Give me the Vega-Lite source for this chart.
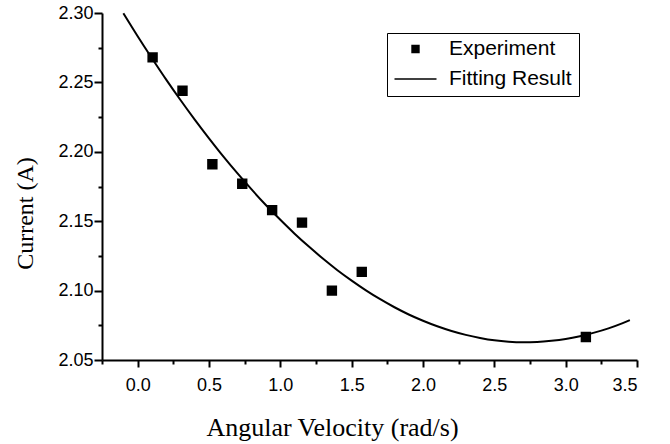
{
  "$schema": "https://vega.github.io/schema/vega-lite/v6.json",
  "width": 535,
  "height": 347,
  "autosize": "none",
  "padding": {"left": 102, "top": 13, "right": 33, "bottom": 84},
  "background": "white",
  "config": {
    "view": {"stroke": null},
    "axis": {
      "domainColor": "black",
      "domainWidth": 2,
      "tickColor": "black",
      "tickWidth": 2,
      "labelColor": "black",
      "labelFont": "Liberation Sans",
      "labelFontSize": 18,
      "titleFont": "Liberation Serif",
      "titleFontWeight": "normal",
      "titleColor": "black",
      "grid": false
    }
  },
  "datasets": {
    "experiment": [
      {"omega": 0.1047, "current": 2.268, "series": "Experiment"},
      {"omega": 0.3142, "current": 2.244, "series": "Experiment"},
      {"omega": 0.5236, "current": 2.191, "series": "Experiment"},
      {"omega": 0.7330, "current": 2.177, "series": "Experiment"},
      {"omega": 0.9425, "current": 2.158, "series": "Experiment"},
      {"omega": 1.1519, "current": 2.149, "series": "Experiment"},
      {"omega": 1.3614, "current": 2.100, "series": "Experiment"},
      {"omega": 1.5708, "current": 2.1135, "series": "Experiment"},
      {"omega": 3.1416, "current": 2.0666, "series": "Experiment"}
    ],
    "fit": [
      {"omega": -0.1, "current": 2.2998},
      {"omega": 0.0, "current": 2.2833},
      {"omega": 0.1, "current": 2.2674},
      {"omega": 0.2, "current": 2.2520},
      {"omega": 0.3, "current": 2.2373},
      {"omega": 0.4, "current": 2.2232},
      {"omega": 0.5, "current": 2.2097},
      {"omega": 0.6, "current": 2.1967},
      {"omega": 0.7, "current": 2.1844},
      {"omega": 0.8, "current": 2.1727},
      {"omega": 0.9, "current": 2.1615},
      {"omega": 1.0, "current": 2.1510},
      {"omega": 1.1, "current": 2.1410},
      {"omega": 1.2, "current": 2.1317},
      {"omega": 1.3, "current": 2.1229},
      {"omega": 1.4, "current": 2.1147},
      {"omega": 1.5, "current": 2.1072},
      {"omega": 1.6, "current": 2.1002},
      {"omega": 1.7, "current": 2.0938},
      {"omega": 1.8, "current": 2.0880},
      {"omega": 1.9, "current": 2.0828},
      {"omega": 2.0, "current": 2.0783},
      {"omega": 2.1, "current": 2.0743},
      {"omega": 2.2, "current": 2.0709},
      {"omega": 2.3, "current": 2.0681},
      {"omega": 2.4, "current": 2.0659},
      {"omega": 2.5, "current": 2.0642},
      {"omega": 2.6, "current": 2.0632},
      {"omega": 2.7, "current": 2.0628},
      {"omega": 2.8, "current": 2.0630},
      {"omega": 2.9, "current": 2.0638},
      {"omega": 3.0, "current": 2.0651},
      {"omega": 3.1, "current": 2.0671},
      {"omega": 3.2, "current": 2.0697},
      {"omega": 3.3, "current": 2.0728},
      {"omega": 3.4, "current": 2.0766},
      {"omega": 3.45, "current": 2.0787}
    ]
  },
  "encoding": {
    "x": {
      "field": "omega",
      "type": "quantitative",
      "scale": {"domain": [-0.25, 3.5], "nice": false, "zero": false},
      "axis": {
        "title": "Angular Velocity (rad/s)",
        "values": [-0.25, 0, 0.25, 0.5, 0.75, 1, 1.25, 1.5, 1.75, 2, 2.25, 2.5, 2.75, 3, 3.25, 3.5],
        "labelExpr": "round(datum.value * 100) % 50 === 0 ? format(datum.value, '.1f') : ''",
        "tickSize": {"condition": {"test": "round(datum.value * 100) % 50 !== 0", "value": 4}, "value": 7},
        "labelPadding": 9,
        "labelFontSize": 18,
        "labelColor": "black",
        "titleFontSize": 26,
        "titleX": 230,
        "titleY": 75,
        "titleAlign": "center",
        "titleBaseline": "alphabetic"
      }
    },
    "y": {
      "field": "current",
      "type": "quantitative",
      "scale": {"domain": [2.05, 2.30], "nice": false, "zero": false},
      "axis": {
        "title": "Current (A)",
        "values": [2.05, 2.075, 2.1, 2.125, 2.15, 2.175, 2.2, 2.225, 2.25, 2.275, 2.3],
        "labelExpr": "round(datum.value * 1000) % 50 === 0 ? format(datum.value, '.2f') : ''",
        "tickSize": {"condition": {"test": "round(datum.value * 1000) % 50 !== 0", "value": 4}, "value": 8},
        "labelPadding": 1,
        "labelOverlap": false,
        "labelFlush": false,
        "titleFontSize": 24,
        "titleAngle": 270,
        "titleX": -70,
        "titleY": 200,
        "titleAlign": "center",
        "titleBaseline": "alphabetic"
      }
    }
  },
  "layer": [
    {
      "data": {"name": "fit"},
      "mark": {"type": "line", "color": "black", "strokeWidth": 2, "interpolate": "monotone"}
    },
    {
      "data": {"name": "experiment"},
      "mark": {"type": "point", "filled": true, "color": "black", "stroke": "black", "strokeWidth": 2, "opacity": 1, "size": 1764},
      "encoding": {
        "shape": {
          "field": "series",
          "type": "nominal",
          "scale": {
            "domain": ["Experiment", "Fitting Result"],
            "range": ["M-0.2,-0.2H0.2V0.2H-0.2Z", "M-1,-0.03H1V0.03H-1Z"]
          },
          "legend": {
            "title": null,
            "orient": "none",
            "legendX": 285,
            "legendY": 20,
            "padding": 7,
            "clipHeight": 18,
            "rowPadding": 9,
            "labelOffset": 12,
            "strokeColor": "black",
            "labelFont": "Liberation Sans",
            "labelFontSize": 21,
            "labelColor": "black",
            "symbolSize": 1764,
            "symbolStrokeColor": "black",
            "symbolFillColor": "black",
            "symbolStrokeWidth": 1,
            "symbolOpacity": 1,
            "encode": {
              "legend": {"update": {"strokeWidth": {"value": 2}}},
              "symbols": {"update": {
                "shape": {"signal": "datum.value === 'Fitting Result' ? 'M-1,-0.03H1V0.03H-1Z' : 'M-0.22,-0.22H0.22V0.22H-0.22Z'"},
                "size": {"value": 1764},
                "fill": {"value": "black"},
                "stroke": {"value": "black"},
                "strokeWidth": {"value": 1},
                "opacity": {"value": 1},
                "fillOpacity": {"value": 1},
                "strokeOpacity": {"value": 1}
              }}
            }
          }
        }
      }
    }
  ]
}
